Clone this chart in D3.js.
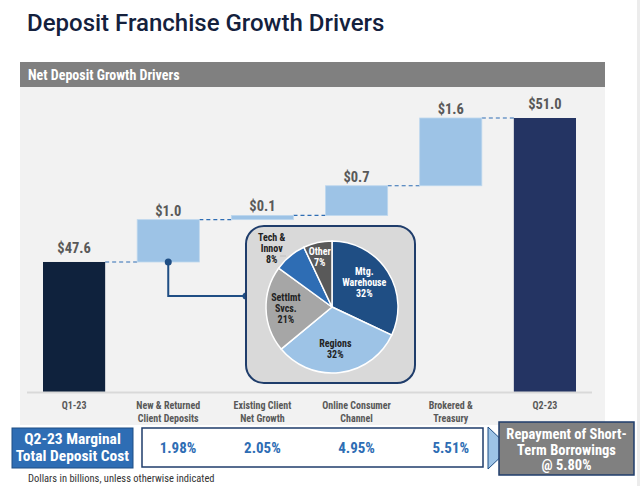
<!DOCTYPE html>
<html><head><meta charset="utf-8">
<script src="https://cdn.jsdelivr.net/npm/d3@7"></script>
<style>
html,body{margin:0;padding:0;background:#fff;}
svg{display:block;}
</style></head>
<body>
<svg id="c" width="640" height="486"></svg>
<script>
// ---- data ----
const categories = ["Q1-23", "New & Returned|Client Deposits", "Existing Client|Net Growth", "Online Consumer|Channel", "Brokered &|Treasury", "Q2-23"];
const values = [47.6, 1.0, 0.1, 0.7, 1.6, 51.0];
const kinds = ["total", "delta", "delta", "delta", "delta", "total"];
const valueLabels = ["$47.6", "$1.0", "$0.1", "$0.7", "$1.6", "$51.0"];
const pieNames = ["Mtg.|Warehouse", "Regions", "Settlmt|Svcs.", "Tech &|Innov", "Other"];
const pieValues = [32, 32, 21, 8, 7];
const costValues = [1.98, 2.05, 4.95, 5.51];
const costTitle = ["Q2-23 Marginal", "Total Deposit Cost"];
const repayText = ["Repayment of Short-", "Term Borrowings", "@ 5.80%"];

const FONT = "'Roboto Condensed',Roboto,sans-serif";
const svg = d3.select("#c");

// right edge strip
svg.append("rect").attr("x", 637).attr("y", 0).attr("width", 3).attr("height", 486).attr("fill", "#ececec");

// Title
svg.append("text").attr("x", 27).attr("y", 31).attr("font-family", "Roboto,sans-serif")
  .attr("font-weight", 500).attr("font-size", 24).attr("fill", "#14213d")
  .text("Deposit Franchise Growth Drivers");

// panel
svg.append("rect").attr("x", 20).attr("y", 87).attr("width", 585).attr("height", 338).attr("fill", "#f2f2f2");
svg.append("rect").attr("x", 20).attr("y", 62).attr("width", 585).attr("height", 25).attr("fill", "#808080");
svg.append("text").attr("x", 28).attr("y", 79.5).attr("font-family", FONT).attr("font-weight", 700)
  .attr("font-size", 14).attr("fill", "#fff").text("Net Deposit Growth Drivers");

// scales
const base = 44.53;
const x = d3.scaleBand().domain(categories).range([27, 592]).paddingInner(0.34).paddingOuter(0.17);
const y = d3.scaleLinear().domain([base, 51.0]).range([392, 118]);

// compute waterfall
let run = 0;
const bars = values.map((v, i) => {
  let lo, hi;
  if (kinds[i] === "total") { lo = base; hi = v; run = v; }
  else { lo = run; hi = run + v; run = hi; }
  return { cat: categories[i], lo, hi, kind: kinds[i], label: valueLabels[i], i };
});
const totalColors = ["#0f223d", "#243463"];

// connectors
for (let i = 0; i < bars.length - 1; i++) {
  const lvl = bars[i].hi;
  svg.append("line").attr("x1", x(bars[i].cat) + x.bandwidth()).attr("x2", x(bars[i + 1].cat))
    .attr("y1", y(lvl)).attr("y2", y(lvl)).attr("stroke", "#2e6db4").attr("stroke-width", 1.2)
    .attr("stroke-dasharray", "4,3");
}

// bars
svg.selectAll("rect.bar").data(bars).enter().append("rect").attr("class", "bar")
  .attr("x", d => x(d.cat)).attr("width", x.bandwidth())
  .attr("y", d => y(d.hi)).attr("height", d => Math.max(y(d.lo) - y(d.hi), 1))
  .attr("fill", d => d.kind === "total" ? totalColors[d.i === 0 ? 0 : 1] : "#9dc3e6")
  .attr("stroke", d => d.kind === "total" ? "none" : "#bdd7ee").attr("stroke-width", 0.8);

// axis baseline
svg.append("line").attr("x1", 27).attr("x2", 592).attr("y1", 392.5).attr("y2", 392.5)
  .attr("stroke", "#d9d9d9").attr("stroke-width", 2);

// value labels
svg.selectAll("text.val").data(bars).enter().append("text").attr("class", "val")
  .attr("x", d => x(d.cat) + x.bandwidth() / 2)
  .attr("y", d => y(d.hi) - (d.kind === "total" ? 9 : 4))
  .attr("text-anchor", "middle").attr("font-family", FONT).attr("font-weight", 700)
  .attr("font-size", 14.5).attr("fill", "#595959").text(d => d.label);

// category labels
const catG = svg.append("g").attr("font-family", FONT).attr("font-weight", 700).attr("font-size", 10)
  .attr("fill", "#595959").attr("text-anchor", "middle");
categories.forEach(c => {
  c.split("|").forEach((ln, j) => {
    catG.append("text").attr("x", x(c) + x.bandwidth() / 2).attr("y", 409 + j * 13).text(ln);
  });
});

// connector from New & Returned bar to pie box
const cx0 = x(categories[1]) + x.bandwidth() / 2, cy0 = y(bars[1].lo);
const boxL = 246, boxT = 226, boxW = 169, boxH = 157;
svg.append("path").attr("d", `M${cx0},${cy0} V296 H${boxL}`).attr("fill", "none")
  .attr("stroke", "#1f4e84").attr("stroke-width", 2);
svg.append("circle").attr("cx", cx0).attr("cy", cy0).attr("r", 3.5).attr("fill", "#1f4e84");
svg.append("circle").attr("cx", boxL).attr("cy", 296).attr("r", 3.5).attr("fill", "#1f4e84");

// pie box
svg.append("rect").attr("x", boxL).attr("y", boxT).attr("width", boxW).attr("height", boxH)
  .attr("rx", 18).attr("fill", "#d9d9d9").attr("stroke", "#1f3d6b").attr("stroke-width", 2);

const pieColors = ["#1f4e84", "#9dc3e6", "#a6a6a6", "#2e6db4", "#595959"];
const pcx = 332, pcy = 307, pr = 66;
const pie = d3.pie().sort(null)(pieValues);
const arc = d3.arc().innerRadius(0).outerRadius(pr);
const pg = svg.append("g").attr("transform", `translate(${pcx},${pcy})`);
pg.selectAll("path").data(pie).enter().append("path").attr("d", arc)
  .attr("fill", (d, i) => pieColors[i]).attr("stroke", "#fff").attr("stroke-width", 1.5);

// pie labels: radius fraction along mid-angle, plus small nudges (layout)
const labelR = [0.58, 0.64, 0.7, 1.22, 0.78];
const labelNudge = [[0, -4], [-2, 0], [0, 0], [-9, 4], [-1, 0]];
const labelColor = ["#fff", "#222", "#222", "#222", "#fff"];
pie.forEach((d, i) => {
  const a = (d.startAngle + d.endAngle) / 2;
  const r = pr * labelR[i];
  const lx = Math.sin(a) * r + labelNudge[i][0], ly = -Math.cos(a) * r + labelNudge[i][1];
  const lines = pieNames[i].split("|").concat([pieValues[i] + "%"]);
  const n = lines.length;
  lines.forEach((ln, j) => {
    pg.append("text").attr("x", lx).attr("y", ly + (j - (n - 1) / 2) * 11 + 3.5)
      .attr("text-anchor", "middle").attr("font-family", FONT).attr("font-weight", 700)
      .attr("font-size", 10).attr("fill", labelColor[i]).text(ln);
  });
});
// leader for Tech & Innov
pg.append("line").attr("x1", -52).attr("x2", -46).attr("y1", -51).attr("y2", -51)
  .attr("stroke", "#bfbfbf").attr("stroke-width", 1);

// bottom row
svg.append("rect").attr("x", 12).attr("y", 428).attr("width", 121).attr("height", 40)
  .attr("fill", "#2e6db4").attr("stroke", "#1f4e84").attr("stroke-width", 1);
costTitle.forEach((t, j) => {
  svg.append("text").attr("x", 72.5).attr("y", 444 + j * 17).attr("text-anchor", "middle")
    .attr("font-family", FONT).attr("font-weight", 700).attr("font-size", 15.5).attr("fill", "#fff").text(t);
});
svg.append("rect").attr("x", 142).attr("y", 428).attr("width", 341).attr("height", 39)
  .attr("fill", "#fff").attr("stroke", "#1f3d6b").attr("stroke-width", 1.5);
costValues.forEach((v, i) => {
  const c = categories[i + 1];
  const cx = Math.max(x(c) + x.bandwidth() / 2, 178);
  svg.append("text").attr("x", cx).attr("y", 453).attr("text-anchor", "middle")
    .attr("font-family", FONT).attr("font-weight", 700).attr("font-size", 15).attr("fill", "#2e6db4")
    .text(v.toFixed(2) + "%");
});
// arrow
svg.append("path").attr("d", "M488,427 L510,448 L488,469 Z").attr("fill", "#9dc3e6").attr("stroke", "#1f4e84").attr("stroke-width", 1);
svg.append("rect").attr("x", 499).attr("y", 422).attr("width", 135).attr("height", 53)
  .attr("fill", "#808080").attr("stroke", "#1f3d6b").attr("stroke-width", 1.5);
repayText.forEach((t, j) => {
  svg.append("text").attr("x", 566.5).attr("y", 439 + j * 15.5).attr("text-anchor", "middle")
    .attr("font-family", FONT).attr("font-weight", 700).attr("font-size", 14.5).attr("fill", "#fff").text(t);
});

svg.append("text").attr("x", 28).attr("y", 482).attr("font-family", FONT).attr("font-size", 10.5)
  .attr("fill", "#333").text("Dollars in billions, unless otherwise indicated");
</script>
</body></html>
